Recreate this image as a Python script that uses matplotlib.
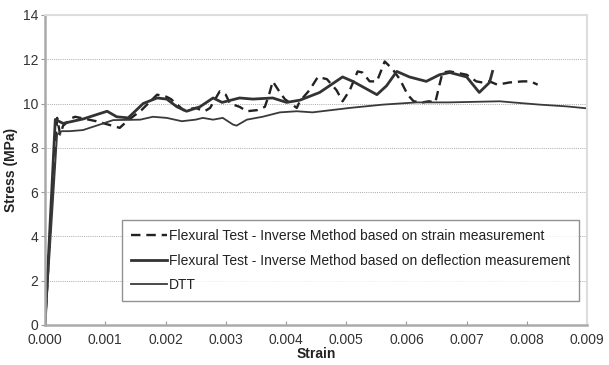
import matplotlib.pyplot as plt

plt.rcParams['font.family'] = ['Liberation Sans', 'DejaVu Sans']

# strain measurement based inverse method (dashed)
strain_x = [0, 0.0001, 0.0002, 0.00025, 0.0003, 0.00045, 0.0005, 0.00085, 0.00124, 0.00136,
            0.0016, 0.00186, 0.00202, 0.00209, 0.0023, 0.0025, 0.00265, 0.00274, 0.0029,
            0.003, 0.00307, 0.00323, 0.00335, 0.00352, 0.00365, 0.00373, 0.00378, 0.0039,
            0.00398, 0.00418, 0.00423, 0.00439, 0.00453, 0.00468, 0.00484, 0.00494, 0.00506,
            0.00519, 0.00527, 0.00539, 0.00551, 0.00559, 0.00564, 0.00577, 0.00589, 0.00602,
            0.00612, 0.00627, 0.00637, 0.00648, 0.00655, 0.0066, 0.00672, 0.007, 0.00716,
            0.00726, 0.00738, 0.00751, 0.00771, 0.00793, 0.00806, 0.00818]
strain_y = [0, 5.0, 9.35, 8.6, 9.0, 9.35, 9.4, 9.2, 8.9, 9.2,
            9.7, 10.4, 10.3, 10.2, 9.7, 9.8, 9.65, 9.8, 10.55,
            10.4, 10.0, 9.85, 9.65, 9.7, 9.85, 10.5, 11.0, 10.5,
            10.2, 9.8, 10.1, 10.6, 11.2, 11.1, 10.6, 10.1, 10.6,
            11.45, 11.4, 11.0, 11.0, 11.55, 11.9, 11.55, 11.1, 10.4,
            10.1, 10.05, 10.1, 10.05, 10.85, 11.4, 11.45, 11.3, 11.0,
            10.95, 11.0, 10.85, 10.95, 11.0, 11.0, 10.85]

# deflection measurement based inverse method (thick solid)
defl_x = [0, 0.00017, 0.0003, 0.00063, 0.00103, 0.00119, 0.00138, 0.00163, 0.00186, 0.00202,
          0.00219, 0.00235, 0.00257, 0.00279, 0.00294, 0.00323, 0.00345, 0.00378, 0.00401,
          0.00423, 0.00456, 0.00494, 0.00511, 0.00551, 0.00567, 0.00584, 0.00605, 0.00633,
          0.00655, 0.00672, 0.007, 0.00721, 0.00738, 0.00743]
defl_y = [0, 9.28, 9.1, 9.3, 9.65, 9.4, 9.35, 10.0, 10.25, 10.2,
          9.85, 9.65, 9.85, 10.25, 10.05, 10.25, 10.2, 10.25, 10.05,
          10.15, 10.5, 11.2, 11.0, 10.4, 10.8, 11.45, 11.2, 11.0,
          11.3, 11.4, 11.2, 10.5, 10.95, 11.45]

# DTT (thin solid)
dtt_x = [0, 0.0002, 0.00028, 0.00041, 0.00063, 0.00091, 0.00113, 0.00158, 0.00179, 0.00202,
         0.00227, 0.0025, 0.00262, 0.00279, 0.00295, 0.00312, 0.00318, 0.00335, 0.00361,
         0.0039, 0.00418, 0.00444, 0.00506, 0.00561, 0.00617, 0.0067, 0.00755, 0.00776,
         0.00821, 0.00866, 0.009]
dtt_y = [0, 8.6, 8.75, 8.75, 8.8, 9.05, 9.25, 9.27, 9.4, 9.35,
         9.2, 9.27, 9.35, 9.27, 9.35, 9.05, 9.0, 9.27, 9.4,
         9.6, 9.65, 9.6, 9.8, 9.95, 10.05, 10.05, 10.1, 10.05,
         9.95, 9.87, 9.78]

labels = ["Flexural Test - Inverse Method based on strain measurement",
          "Flexural Test - Inverse Method based on deflection measurement",
          "DTT"]

fig = plt.figure(figsize=(6.09, 3.65), dpi=100)
ax = fig.add_axes([0.074, 0.11, 0.89, 0.849])

ax.plot(strain_x, strain_y, color="#222222", lw=1.7, ls=(0, (4, 2.5)), label=labels[0])
ax.plot(defl_x, defl_y, color="#333333", lw=2.0, label=labels[1])
ax.plot(dtt_x, dtt_y, color="#3a3a3a", lw=1.3, label=labels[2])

ax.set_xlim(0, 0.009)
ax.set_ylim(0, 14)
ax.set_xticks([i * 0.001 for i in range(10)])
ax.set_xticklabels(["%.3f" % (i * 0.001) for i in range(10)])
ax.set_yticks(range(0, 15, 2))
ax.yaxis.grid(True, color="#aaaaaa", ls=(0, (1, 1.2)), lw=0.7)
ax.set_axisbelow(True)

ax.tick_params(axis="x", direction="in", length=3, color="#999999", labelsize=10, labelcolor="#333333", pad=6)
ax.tick_params(axis="y", direction="out", length=3, color="#999999", labelsize=10, labelcolor="#333333", pad=2)
for s in ["left", "bottom"]:
    ax.spines[s].set_color("#aaaaaa")
    ax.spines[s].set_linewidth(1.8)
for s in ["top", "right"]:
    ax.spines[s].set_color("#dddddd")
    ax.spines[s].set_linewidth(1.5)

ax.set_xlabel("Strain", fontsize=10, fontweight="bold", color="#222222", labelpad=0)
ax.set_ylabel("Stress (MPa)", fontsize=10, fontweight="bold", color="#222222", labelpad=3)

leg = ax.legend(loc="lower left", bbox_to_anchor=(0.142, 0.077), fontsize=10, frameon=True,
                fancybox=False, handlelength=2.6, handletextpad=0.15, labelspacing=0.75,
                borderpad=0.65, borderaxespad=0)
leg.get_frame().set_edgecolor("#777777")
leg.get_frame().set_linewidth(1.0)
for t in leg.get_texts():
    t.set_color("#222222")

plt.savefig("out.png", dpi=100)
